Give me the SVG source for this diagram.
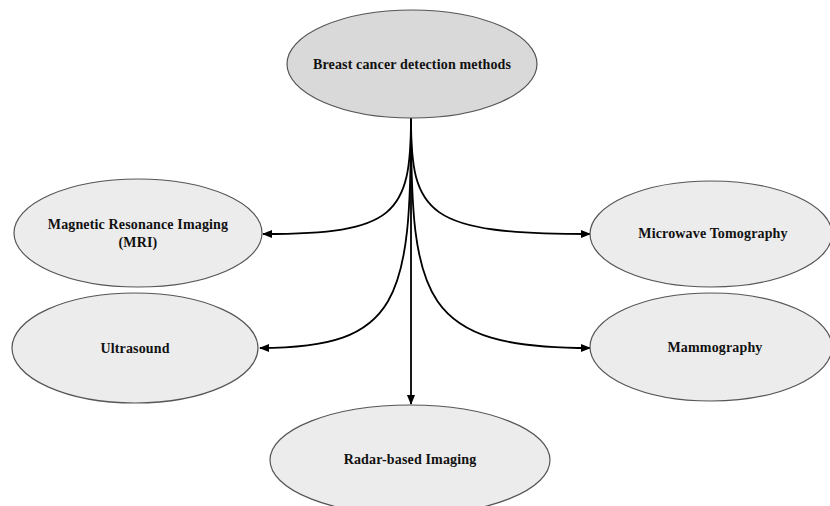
<svg xmlns="http://www.w3.org/2000/svg" width="830" height="506" viewBox="0 0 830 506">
  <defs>
    <marker id="arrow" viewBox="0 0 10 10" refX="9" refY="5" markerWidth="10" markerHeight="10" markerUnits="userSpaceOnUse" orient="auto">
      <path d="M0,1 L10,5 L0,9 Z" fill="#000"/>
    </marker>
  </defs>
  <style>
    .node ellipse { fill: #ececec; stroke: #555; stroke-width: 1.2; }
    #root ellipse { fill: #d9d9d9; }
    .node text { font-family: "Liberation Serif", "Times New Roman", serif; font-weight: bold; font-size: 14px; letter-spacing: 0.15px; fill: #111; text-anchor: middle; }
    .edge { fill: none; stroke: #000; stroke-width: 1.8; marker-end: url(#arrow); }
  </style>
  <rect width="830" height="506" fill="#fff"/>

  <g id="connectors">
    <path class="edge" d="M411,118 L411,404"/>
    <path class="edge" d="M411,118 C411,215 395,234 263,234"/>
    <path class="edge" d="M411,118 C411,300 400,348 260,348"/>
    <path class="edge" d="M411,118 C411,215 427,234 590,234"/>
    <path class="edge" d="M411,118 C411,300 422,348 590,348"/>
  </g>

  <g id="root" class="node">
    <ellipse cx="412" cy="64" rx="125" ry="54"/>
    <text x="412" y="69">Breast cancer detection methods</text>
  </g>
  <g id="mri" class="node">
    <ellipse cx="138" cy="233" rx="124" ry="54"/>
    <text x="138" y="229">Magnetic Resonance Imaging</text>
    <text x="138" y="247">(MRI)</text>
  </g>
  <g id="microwave" class="node">
    <ellipse cx="711" cy="234" rx="121" ry="53"/>
    <text x="713" y="238">Microwave Tomography</text>
  </g>
  <g id="ultrasound" class="node">
    <ellipse cx="135" cy="348" rx="123" ry="55"/>
    <text x="135" y="353">Ultrasound</text>
  </g>
  <g id="mammography" class="node">
    <ellipse cx="711" cy="347" rx="121" ry="54"/>
    <text x="715" y="352">Mammography</text>
  </g>
  <g id="radar" class="node">
    <ellipse cx="410" cy="460" rx="140" ry="55"/>
    <text x="410" y="464">Radar-based Imaging</text>
  </g>
</svg>
